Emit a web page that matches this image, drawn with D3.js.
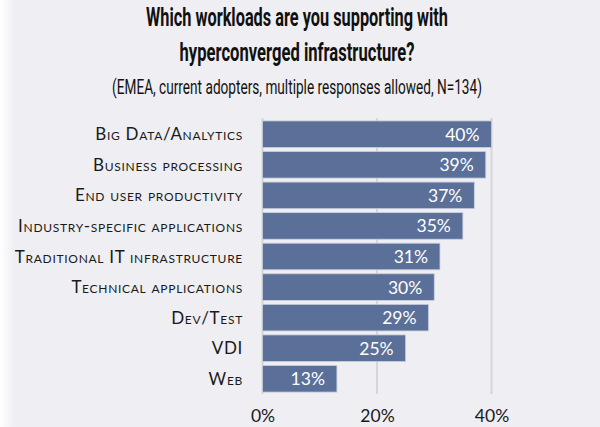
<!DOCTYPE html>
<html><head><meta charset="utf-8">
<script src="https://cdn.jsdelivr.net/npm/d3@7"></script>
<style>
html,body{margin:0;padding:0;background:#efeef2;}
svg{display:block;}
</style></head>
<body>
<script>
const categories = ["Big Data/Analytics","Business processing","End user productivity","Industry-specific applications","Traditional IT infrastructure","Technical applications","Dev/Test","VDI","Web"];
const values = [40,39,37,35,31,30,29,25,13];
const tickValues = [0,20,40];
const titleLines = ["Which workloads are you supporting with","hyperconverged infrastructure?"];
const subtitle = "(EMEA, current adopters, multiple responses allowed, N=134)";

const W=600,H=427;
const svg=d3.select("body").append("svg").attr("width",W).attr("height",H);
const defs=svg.append("defs");
const g=defs.append("linearGradient").attr("id","edge").attr("x1",0).attr("x2",1);
g.append("stop").attr("offset",0).attr("stop-color","#ffffff");
g.append("stop").attr("offset",1).attr("stop-color","#efeef2");
svg.append("rect").attr("width",W).attr("height",H).attr("fill","#efeef2");
svg.append("rect").attr("width",14).attr("height",H).attr("fill","url(#edge)");

const x=d3.scaleLinear().domain([0,40]).range([262.5,491.5]);
const y=d3.scaleBand().domain(categories).range([120,393]).paddingInner(0.13).paddingOuter(0.03);

// gridlines
svg.append("g").selectAll("line").data(tickValues).join("line")
 .attr("x1",d=>x(d)).attr("x2",d=>x(d)).attr("y1",118).attr("y2",394)
 .attr("stroke","#d6d5da").attr("stroke-width",2);

svg.append("g").selectAll("rect").data(values).join("rect")
 .attr("x",x(0)).attr("y",(d,i)=>y(categories[i]))
 .attr("width",d=>x(d)-x(0)).attr("height",y.bandwidth())
 .attr("fill","#5b7098").attr("stroke","#c9d0de").attr("stroke-width",0.8);

svg.append("g").selectAll("text").data(values).join("text")
 .attr("x",d=>x(d)-12).attr("y",(d,i)=>y(categories[i])+y.bandwidth()/2+6.5)
 .attr("text-anchor","end").attr("fill","#ffffff")
 .style("font-family","Lato, 'Open Sans', sans-serif").style("font-size","17.5px")
 .text(d=>d+"%");

// category labels
svg.append("g").selectAll("text").data(categories).join("text")
 .attr("x",243).attr("y",d=>y(d)+y.bandwidth()/2+6)
 .attr("text-anchor","end").attr("fill","#1a1a1a")
 .style("font-family","Lato, 'Open Sans', sans-serif").style("font-size","17px")
 .style("font-variant","small-caps").style("letter-spacing","0.7px")
 .text(d=>d);

// x axis tick labels
const ax=svg.append("g").attr("transform","translate(0,398)")
 .call(d3.axisBottom(x).tickValues(tickValues).tickFormat(d=>d+"%").tickSize(0).tickPadding(12));
ax.select(".domain").remove();
ax.selectAll("text").attr("fill","#1a1a1a")
 .style("font-family","Lato, 'Open Sans', sans-serif").style("font-size","17.5px");

// title (horizontally condensed via scale)
function condensed(text, cy, targetW, size, weight){
  const gg=svg.append("g");
  const t=gg.append("text").attr("x",0).attr("y",0).attr("text-anchor","middle")
    .attr("fill","#111").style("font-family","Roboto, sans-serif")
    .style("font-weight",weight).style("font-size",size+"px").text(text);
  const w=t.node().getComputedTextLength();
  gg.attr("transform",`translate(297,${cy}) scale(${targetW/w},1)`);
}
const titleWidths=[302,235];
titleLines.forEach((l,i)=>condensed(l,26+i*35,titleWidths[i],25,"bold"));
condensed(subtitle,94,370,20,"normal");
</script>
</body></html>
